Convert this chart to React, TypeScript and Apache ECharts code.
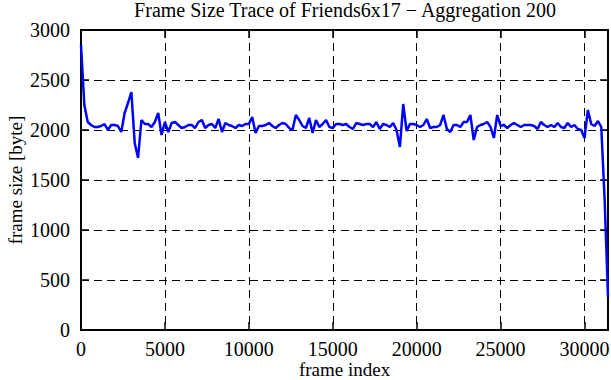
import React, { useEffect, useRef } from "react";
import * as echarts from "echarts";

const titleText = "Frame Size Trace of Friends6x17 \u2212 Aggregation 200";
const xName = "frame index";
const yName = "frame size [byte]";
const step = 200;
const frameSizes = [
  2850, 2250, 2080, 2050, 2030, 2030, 2040, 2060, 2000, 2050,
  2050, 2040, 1980, 2170, 2270, 2380, 1870, 1720, 2100, 2060,
  2060, 2030, 2080, 2170, 1950, 2080, 1980, 2070, 2080, 2050,
  2020, 2030, 2050, 2050, 2020, 2080, 2100, 2020, 2050, 2060,
  2020, 2110, 1980, 2070, 2050, 2040, 2020, 2050, 2040, 2060,
  2060, 2130, 1970, 2040, 2040, 2050, 2070, 2040, 2020, 2050,
  2070, 2060, 2020, 2000, 2150, 2100, 2040, 2020, 2120, 1970,
  2100, 2030, 2060, 2100, 2030, 2020, 2060, 2060, 2050, 2060,
  2030, 2010, 2070, 2060, 2050, 2060, 2060, 2030, 2080, 2010,
  2060, 2050, 2030, 2070, 2000, 1830, 2260, 1990, 2060, 2060,
  2050, 2030, 2050, 2110, 2020, 2030, 2030, 2050, 2150, 2010,
  1980, 2050, 2050, 2030, 2080, 2080, 2150, 1900, 2030, 2050,
  2060, 2080, 2030, 1920, 2150, 2040, 2050, 2020, 2050, 2070,
  2050, 2030, 2050, 2050, 2050, 2040, 2010, 2080, 2050, 2030,
  2050, 2030, 2070, 2030, 2020, 2070, 2030, 2050, 2010, 2000,
  1920, 2200, 2060, 2040, 2090, 2030, 1300, 330,
];
const xMin = 0;
const xMax = 31400;
const xInterval = 5000;
const yMin = 0;
const yMax = 3000;
const yInterval = 500;

const FONT = "Liberation Serif";

export default function App() {
  const ref = useRef<HTMLDivElement>(null);
  useEffect(() => {
    document.body.style.margin = "0";
    if (!ref.current) return;
    const chart = echarts.init(ref.current, null, { renderer: "svg" });
    const data = frameSizes.map((v, i) => [i * step, v]);
    const dash = [8, 5];
    const labelStyle = { color: "#000", fontFamily: FONT, fontSize: 20 };
    const nameStyle = { color: "#000", fontFamily: FONT, fontSize: 19, lineHeight: 19 };
    const plain = (v: number) => String(v);
    chart.setOption({
      animation: false,
      backgroundColor: "#fff",
      title: {
        text: titleText,
        left: 345,
        top: 0,
        padding: 0,
        textAlign: "center",
        textStyle: { color: "#000", fontFamily: FONT, fontSize: 20, fontWeight: "normal" },
      },
      grid: {
        left: 81,
        right: 3,
        top: 30,
        bottom: 50,
        containLabel: false,
        outerBoundsMode: "none",
        show: true,
        borderColor: "#000",
        borderWidth: 2,
        backgroundColor: "transparent",
      },
      xAxis: [
        {
          type: "value",
          min: xMin,
          max: xMax,
          interval: xInterval,
          position: "bottom",
          name: xName,
          nameLocation: "middle",
          nameGap: 30,
          nameMoveOverlap: false,
          nameTextStyle: nameStyle,
          axisLine: { show: true, onZero: false, lineStyle: { color: "#000", width: 2 } },
          axisTick: { show: true, inside: true, length: 8, lineStyle: { color: "#000", width: 1.5 } },
          axisLabel: { ...labelStyle, margin: 9, showMaxLabel: false, formatter: plain },
          splitLine: { show: true, lineStyle: { color: "#000", width: 1, type: dash } },
        },
        {
          type: "value",
          min: xMin,
          max: xMax,
          interval: xInterval,
          position: "top",
          axisLine: { show: true, onZero: false, lineStyle: { color: "#000", width: 2 } },
          axisTick: { show: true, inside: true, length: 8, lineStyle: { color: "#000", width: 1.5 } },
          axisLabel: { show: false },
          splitLine: { show: false },
        },
      ],
      yAxis: [
        {
          type: "value",
          min: yMin,
          max: yMax,
          interval: yInterval,
          position: "left",
          name: yName,
          nameLocation: "middle",
          nameGap: 56,
          nameMoveOverlap: false,
          nameRotate: 90,
          nameTextStyle: nameStyle,
          axisLine: { show: true, onZero: false, lineStyle: { color: "#000", width: 2 } },
          axisTick: { show: true, inside: true, length: 8, lineStyle: { color: "#000", width: 1.5 } },
          axisLabel: { ...labelStyle, margin: 11, formatter: plain },
          splitLine: { show: true, lineStyle: { color: "#000", width: 1, type: dash } },
        },
        {
          type: "value",
          min: yMin,
          max: yMax,
          interval: yInterval,
          position: "right",
          axisLine: { show: true, onZero: false, lineStyle: { color: "#000", width: 2 } },
          axisTick: { show: true, inside: true, length: 8, lineStyle: { color: "#000", width: 1.5 } },
          axisLabel: { show: false },
          splitLine: { show: false },
        },
      ],
      series: [
        {
          type: "line",
          data,
          xAxisIndex: 0,
          yAxisIndex: 0,
          showSymbol: false,
          symbol: "none",
          lineStyle: { color: "#0000ff", width: 2.5 },
          itemStyle: { color: "#0000ff" },
        },
      ],
    });
    return () => chart.dispose();
  }, []);
  return (
    <div
      ref={ref}
      style={{ position: "fixed", left: 0, top: 0, width: 611, height: 380 }}
    />
  );
}
